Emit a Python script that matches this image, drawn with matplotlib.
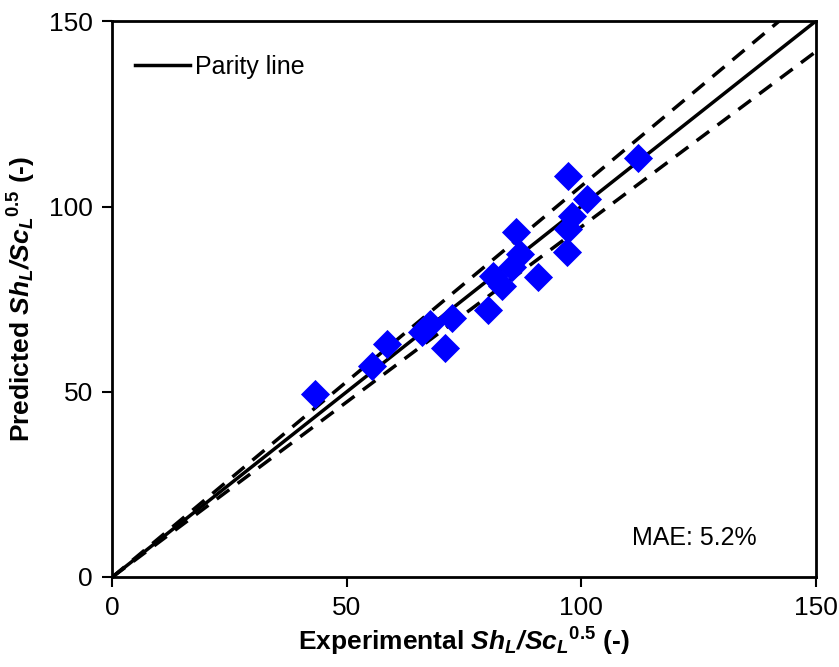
import numpy as np
import matplotlib.pyplot as plt

fam = 'Liberation Sans'
plt.rcParams['font.family'] = [fam, 'DejaVu Sans']
plt.rcParams['mathtext.fontset'] = 'custom'
plt.rcParams['mathtext.rm'] = fam
plt.rcParams['mathtext.it'] = fam + ':italic'
plt.rcParams['mathtext.bf'] = fam + ':bold'
plt.rcParams['mathtext.bfit'] = fam + ':italic:bold'

# experimental vs predicted Sh_L/Sc_L^0.5
experimental = [112.2, 97.1, 101.2, 98.0, 97.2, 96.9, 86.0, 87.0, 85.2, 90.9,
                81.3, 83.1, 80.2, 72.5, 67.7, 66.0, 70.9, 58.5, 55.3, 43.3]
predicted = [113.2, 108.3, 102.0, 97.5, 93.9, 87.6, 93.2, 87.2, 83.6, 80.9,
             81.3, 78.6, 72.2, 69.8, 68.3, 66.1, 61.9, 62.9, 56.9, 49.5]
band = 0.055
mae_text = 'MAE: 5.2%'

fig, ax = plt.subplots(figsize=(8.39, 6.67), dpi=100)
fig.subplots_adjust(left=0.134, right=0.972, top=0.968, bottom=0.135)

line = np.array([0, 150])
ax.plot(line, line, color='black', lw=2.5, label='Parity line', zorder=2)
ax.plot(line, line * (1 + band), color='black', lw=2.5, dashes=(4.5, 3), zorder=2)
ax.plot(line, line * (1 - band), color='black', lw=2.5, dashes=(4.5, 3), zorder=2)

ax.scatter(experimental, predicted, marker='D', s=220, color='#0000ff',
           linewidths=0, zorder=3)

ax.set_xlim(0, 150)
ax.set_ylim(0, 150)
ax.set_xticks([0, 50, 100, 150])
ax.set_yticks([0, 50, 100, 150])
ax.tick_params(direction='out', length=7, width=1.5, labelsize=19, pad=7)
for s in ax.spines.values():
    s.set_linewidth(2)

lab = r'$\mathbfit{Sh}_{\mathbfit{L}}\mathbfit{/Sc}_{\mathbfit{L}}{}^{\mathbf{0.5}}$ (-)'
ax.set_xlabel('Experimental ' + lab, fontsize=19, fontweight='bold', labelpad=4)
ax.set_ylabel('Predicted ' + lab, fontsize=19, fontweight='bold', labelpad=8)

ax.legend(loc='upper left', frameon=False, fontsize=18, handlelength=2.2,
          handletextpad=0.2, bbox_to_anchor=(0.0, 0.98))
ax.text(0.916, 0.07, mae_text, transform=ax.transAxes, fontsize=18,
        ha='right', va='center')

fig.savefig('out.png', dpi=100)
